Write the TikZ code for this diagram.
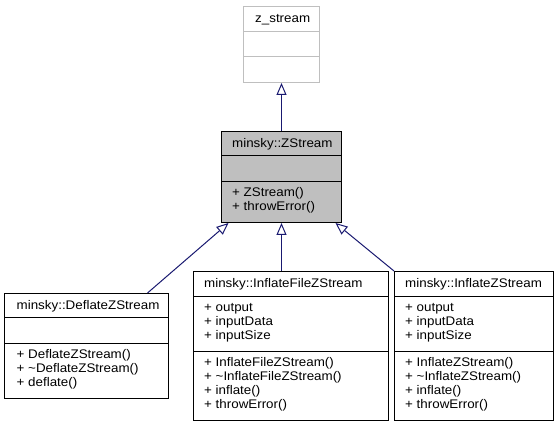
\documentclass[tikz,border=0pt]{standalone}
\usepackage{fontspec}
\setmainfont[FakeStretch=1.07]{Liberation Sans}
\usetikzlibrary{arrows.meta}
\definecolor{edgeblue}{HTML}{191970}
\definecolor{boxgray}{HTML}{BFBFBF}
\tikzset{
  classbox/.style={draw=black, line width=1pt, fill=white, inner sep=0pt, anchor=north west},
  extbox/.style={draw=boxgray, line width=1pt, fill=white, inner sep=0pt, anchor=north west},
  curbox/.style={draw=black, line width=1pt, fill=boxgray, inner sep=0pt, anchor=north west},
  divider/.style={draw=black, line width=1pt},
  extdivider/.style={draw=boxgray, line width=1pt},
  title/.style={font=\fontsize{12.5}{14}\selectfont, inner sep=0pt, anchor=base west},
  member/.style={font=\fontsize{12.5}{14}\selectfont, inner sep=0pt, anchor=base west},
  inh/.style={draw=edgeblue, line width=1pt, -{Triangle[open, length=12pt, width=10pt]}},
}
\begin{document}
\begin{tikzpicture}[x=1pt, y=-1pt]
\useasboundingbox (0,0) rectangle (557,427);
% z_stream
\node[extbox, minimum width=76pt, minimum height=76pt] (zs) at (243,6) {};
\draw[extdivider] (243,32) -- (319,32);
\draw[extdivider] (243,57) -- (319,57);
\node[title] (zst) at (255,23) {z\_stream};
% minsky::ZStream
\node[curbox, minimum width=120pt, minimum height=91pt] (ZS) at (221,131) {};
\draw[divider] (221,156) -- (341,156);
\draw[divider] (221,182) -- (341,182);
\node[title] (ZSt) at (232,148) {minsky::ZStream};
\node[member] (ZSm1) at (232,197) {+ ZStream()};
\node[member] (ZSm2) at (232,211) {+ throwError()};
% minsky::DeflateZStream
\node[classbox, minimum width=164pt, minimum height=105pt] (dz) at (4,293) {};
\draw[divider] (4,318) -- (168,318);
\draw[divider] (4,344) -- (168,344);
\node[title] (dzt) at (16.5,310) {minsky::DeflateZStream};
\node[member] (dzm1) at (16.5,359) {+ DeflateZStream()};
\node[member] (dzm2) at (16.5,373) {+ \textasciitilde DeflateZStream()};
\node[member] (dzm3) at (16.5,387) {+ deflate()};
% minsky::InflateFileZStream
\node[classbox, minimum width=195pt, minimum height=149pt] (ifz) at (193,271) {};
\draw[divider] (193,297) -- (388,297);
\draw[divider] (193,352) -- (388,352);
\node[title] (ifzt) at (204,288) {minsky::InflateFileZStream};
\node[member] (ifza1) at (204,312) {+ output};
\node[member] (ifza2) at (204,326) {+ inputData};
\node[member] (ifza3) at (204,340) {+ inputSize};
\node[member] (ifzm1) at (204,367) {+ InflateFileZStream()};
\node[member] (ifzm2) at (204,381) {+ \textasciitilde InflateFileZStream()};
\node[member] (ifzm3) at (204,395) {+ inflate()};
\node[member] (ifzm4) at (204,409) {+ throwError()};
% minsky::InflateZStream
\node[classbox, minimum width=159pt, minimum height=149pt] (iz) at (394,271) {};
\draw[divider] (394,297) -- (553,297);
\draw[divider] (394,352) -- (553,352);
\node[title] (izt) at (405,288) {minsky::InflateZStream};
\node[member] (iza1) at (405,312) {+ output};
\node[member] (iza2) at (405,326) {+ inputData};
\node[member] (iza3) at (405,340) {+ inputSize};
\node[member] (izm1) at (405,367) {+ InflateZStream()};
\node[member] (izm2) at (405,381) {+ \textasciitilde InflateZStream()};
\node[member] (izm3) at (405,395) {+ inflate()};
\node[member] (izm4) at (405,409) {+ throwError()};
% inheritance
\draw[inh] (ZS.north) -- (zs.south);
\draw[inh] ([xshift=61pt]dz.north) -- ([xshift=-53pt]ZS.south);
\draw[inh] (ZS.south |- ifz.north) -- (ZS.south);
\draw[inh] (iz.north west) -- ([xshift=54pt]ZS.south);
\end{tikzpicture}
\end{document}
